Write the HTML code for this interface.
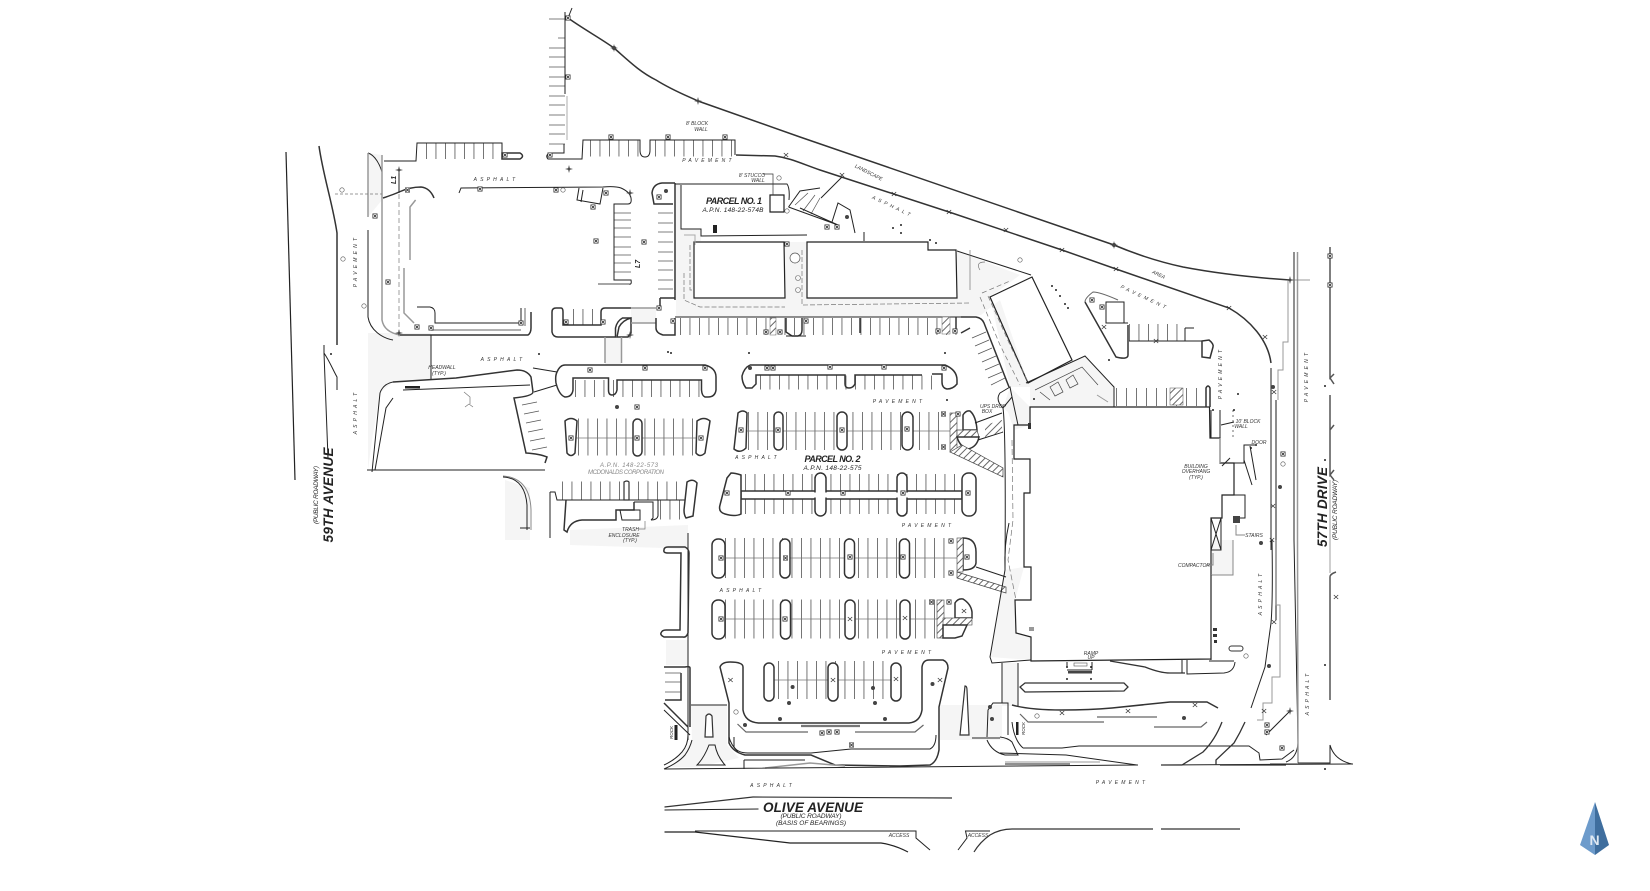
<!DOCTYPE html>
<html><head><meta charset="utf-8"><style>
html,body{margin:0;padding:0;background:#fff;width:1650px;height:891px;overflow:hidden}
svg{display:block}
text{font-family:"Liberation Sans",sans-serif;font-style:italic;fill:#222}
.a{font-size:5px;letter-spacing:3.2px;text-anchor:middle;fill:#333}
.n{font-size:5px;text-anchor:middle;fill:#333}
.l{fill:none;stroke:#222;stroke-width:1}
.t{fill:none;stroke:#333;stroke-width:1.5}
.g{fill:none;stroke:#999;stroke-width:1.5}
.h{fill:none;stroke:#777;stroke-width:.7}
.w{fill:#fff;stroke:#333;stroke-width:1.5}
.st{fill:none;stroke:#666;stroke-dasharray:.9 8.6}
.sp{fill:#f5f5f5;stroke:none}
</style></head><body>
<svg width="1650" height="891" viewBox="0 0 1650 891" xmlns="http://www.w3.org/2000/svg">
<defs>
<g id="s"><rect x="-2.2" y="-2.2" width="4.4" height="4.4" fill="#fff" stroke="#333" stroke-width=".6"/><path d="M-1.5-1.5L1.5 1.5M-1.5 1.5L1.5-1.5" stroke="#222" stroke-width=".8"/></g>
<g id="x"><path d="M-2.2-2L2.2 2M-2.2 2L2.2-2" stroke="#333" stroke-width=".7"/></g>
<circle id="f" r="2" fill="#444"/>
<circle id="d" r="1" fill="#222"/>
<circle id="o" r="2.2" fill="#fff" stroke="#555" stroke-width=".6"/>
<g id="k"><path d="M0-4L1 0L0 4L-1 0ZM-4 0L0-1L4 0L0 1Z" fill="#444"/></g>
<pattern id="hh" width="5" height="5" patternUnits="userSpaceOnUse" patternTransform="rotate(45)"><rect width="5" height="5" fill="#fff"/><rect width="1" height="5" fill="#666"/></pattern>
</defs>

<!-- stipple areas -->
<path class="sp" d="M368 333H431V380L393 382L380 393L372 440L368 470Z"/>
<path class="sp" d="M368 153V217L382 200V155Z"/>
<path class="sp" d="M605 337H621V365H605ZM631 308H656V323H631ZM676 184H681V229H701V241H694V299H785V242H807V298H957V251L1020 275L990 297L1010 387H1030V407H1114V387L1085 356L1028 383L1000 300L981 315L957 317H676Z"/>
<path class="sp" d="M1010 387L1030 407V425L1014 430L1008 412L1003 408Z"/>
<path class="sp" d="M1005 570L990 657L1031 660V637L1016 633L1015 600L1024 567ZM1002 663H1018V706H1002Z"/>
<path class="sp" d="M691 705H727V745L739 758L697 767H672L692 740Z"/>
<path class="sp" d="M940 705H1002V737L1008 740H940Z"/>
<path class="sp" d="M1211 540H1233V575H1211Z"/>
<path class="sp" d="M570 530L688 525V550L664 548L570 545ZM666 640H688V665H666Z"/>
<path class="sp" d="M505 480L530 488V540H505Z"/>

<!-- parking stripes -->
<path class="st" stroke-width="16" d="M426 151H500"/>
<path class="st" stroke-width="16" d="M590 148.500H640M655 148.500H735"/>
<path class="h" style="stroke:#555" d="M549 19H565M558 38H565M549 48H565M549 57H565M549 67H565M549 77H565M549 86H565M549 96H565M549 105H565M549 115H565M549 125H565M549 134H565M549 144H565"/>
<path class="h" style="stroke:#555" d="M614 213H631M614 220H631M614 228H631M614 237H631M614 247H631M614 255H631M614 263H631M614 272H631"/>
<path class="h" style="stroke:#555" d="M658 213H673M658 223H673M658 232H673M658 242H673M658 252H673M658 261H673M658 270H673M658 280H673M658 289H673"/>
<path class="st" stroke-width="17" d="M680 326.500H960"/>
<path class="st" stroke-width="16" d="M573 317H600"/>
<path class="st" stroke-width="17" d="M575 388.500H702"/>
<path class="st" stroke-width="14" d="M760 382.500H940"/>
<path class="st" stroke-width="37" d="M578 437H702"/>
<path class="st" stroke-width="38" d="M748 431H942"/>
<path class="st" stroke-width="40" d="M745 494H962"/>
<path class="st" stroke-width="19" d="M562 491H680"/>
<path class="st" stroke-width="19" d="M660 510H680"/>
<path class="st" stroke-width="40" d="M725 558H950"/>
<path class="st" stroke-width="39" d="M725 619H935"/>
<path class="st" stroke-width="38" d="M778 680H892"/>
<path class="st" stroke-width="17" d="M1129 332.500H1186"/>
<path class="st" stroke-width="18" style="stroke-dasharray:.9 9.1" d="M1116 397H1206"/>
<path class="h" style="stroke:#555" d="M972 338L986 332M975 346L989 340M978 354L992 348M982 362L996 356M985 370L999 364M988 378L1002 372M991 385L1005 378"/>
<path class="h" style="stroke:#555" d="M522 405L537 402M524 414L539 411M526 423L541 420M528 432L543 429M530 441L545 438M532 450L547 447"/>
<path class="h" style="stroke:#555" d="M795 205L808 193M803 211L815 195M811 214L820 198"/>

<!-- center lines -->
<path class="h" d="M575 438H705M735 431H950M725 558H958M725 619H938M770 680H895"/>

<!-- boundary -->
<path class="t" d="M568 18C585 30 600 38 614 48C630 62 640 72 656 80C672 90 685 95 698 101L800 137L1114 245C1140 256 1160 262 1183 267C1220 274 1260 278 1290 280"/>
<path class="t" d="M736 155L775 156C790 158 800 163 820 170L949 212L1062 250L1116 269L1229 308C1250 320 1268 340 1271 363"/>
<path class="l" d="M565 12V94M564 144V153H549Q545 156 548 159H582L583 140H640V150Q640 157 645 157Q650 157 650 150V140H735V155"/>
<path class="l" d="M568 18L572 8"/>
<path class="g" style="stroke-width:.8" d="M567 96V140"/>

<!-- west roads -->
<path class="l" style="stroke-width:1.2" d="M286 152L295 480"/>
<path class="t" d="M319 146C323 175 333 205 337 233V345"/>
<path class="l" d="M324 345V353C330 362 333 370 337 377V390M324 353L328 458"/>
<path class="l" d="M368 153C375 155 380 165 382 172M368 230V317C370 330 382 338 393 340"/>
<path class="g" d="M368 153V217M382 155V320Q384 332 400 335"/>
<path class="h" style="stroke-dasharray:5 3" d="M399 170V333"/>
<path class="h" style="stroke-dasharray:3 2" d="M335 194H382"/>
<path class="l" d="M399 170V193"/>
<path class="t" d="M383 198Q395 194 399 192Q410 187 421 187Q430 188 434 198"/>
<path class="g" d="M415.600 200L410 207V260M404 268V313L414 323"/>
<path class="l" d="M384 161H416L417 143H502V153"/>
<path class="w" d="M502 153H520Q525 156 520 159H502Z"/>
<path class="l" d="M459 193L461 188L603 187Q615 186 621 188Q630 192 631 198Q632 204 628 204H614V280H631Q632 285 629 284"/>
<path class="t" style="stroke:#888" d="M629 284H598"/>
<path class="l" d="M579 188L577 200L600 204L603 188M583 190L581 202"/>
<path class="l" d="M417 307H430Q435 308 435 313V323H521V308"/>
<path class="g" d="M431 330H521M525 308V326"/>
<path class="t" d="M400 335H528Q531 333 531 328V312"/>
<path class="t" d="M552 312Q552 308 556 308H561Q563 308 563 312V325H601V312Q601 308 605 308H631M552 312V332Q553 337 558 337H615.500V328Q617 321 622.500 318H631"/>
<path class="t" d="M617 337L619 327Q623 320 631 318V333L628 337Z"/>
<path class="g" d="M631 308H656M631 323H656M605 337V363M621.500 337V363"/>
<path class="l" d="M431 335V380"/>

<!-- curb lot west -->
<path class="t" d="M393 382L456 378L517 370Q527 370 531 377L533 392Q533 396 514 398L526 453Q540 454 547 457L545 463"/>
<path class="l" d="M372 472L380 393Q383 384 393 382M403 390L530 385M393 398L386 408L375 470"/>
<rect x="405" y="386" width="15" height="2.500" fill="#222"/>
<path class="l" d="M367 470H545"/>
<path class="l" d="M533 368L557 372M534 392L557 385"/>
<path class="h" d="M464 392L470 397V404M469 404L465 407M469 404L473 407"/>

<!-- west islands -->
<path class="t" d="M557 372Q560 365 565 365H705Q716 368 716 377V390Q715 397 708 397H705Q702 396 701.500 390V380H617V390Q616 395 612 395Q608.500 395 608.500 390V378H573V390Q572 397 565 397Q559 395 556 383Q555 376 557 372Z"/>
<path class="t" d="M750 365H945Q957 370 957 380V384Q953 389 947 389Q942 388 942 382V374H932M922 375H855V384Q853 388 849 388Q845 388 845 384V375H756V384L752 388H746Q742 383 742 376Q744 368 750 365"/>
<path class="w" d="M565 421Q571 416 577 421L575 453Q571 458 567 453Z"/>
<rect class="w" x="633" y="419" width="9" height="37" rx="4.500"/>
<path class="w" d="M697 421Q704 416 710 421L705 453Q700 458 696 453Z"/>
<path class="w" d="M738 413Q743 409 747 413L746 448Q740 454 734 449Z"/>
<rect class="w" x="774" y="412" width="9" height="38" rx="4.500"/>
<rect class="w" x="837" y="412" width="10" height="38" rx="5"/>
<rect class="w" x="902" y="412" width="11" height="38" rx="5.500"/>

<!-- row B -->
<path class="w" d="M741 491H962V499H741Z"/>
<path class="w" d="M731 473Q735 473 741 475V514Q735 517 725 514Q718 512 720 505L727 478Z"/>
<rect class="w" x="815" y="473" width="11" height="43" rx="5.500"/>
<rect class="w" x="897" y="473" width="10" height="43" rx="5"/>
<rect class="w" x="962" y="473" width="14" height="43" rx="6.500"/>
<path d="M743 495H961M816 495H825M898 495H906" stroke="#fff" stroke-width="5"/>

<!-- row C -->
<rect class="w" x="712" y="539" width="13" height="39" rx="6"/>
<rect class="w" x="780" y="539" width="10" height="39" rx="5"/>
<rect class="w" x="844.500" y="539" width="10" height="39" rx="5"/>
<rect class="w" x="899.500" y="539" width="10" height="39" rx="5"/>
<path class="w" d="M963 538Q976 538 976 552V563Q975 570 963 570Z"/>
<rect x="957" y="538" width="6" height="34" fill="url(#hh)" stroke="#444" stroke-width=".6"/>
<path fill="url(#hh)" stroke="#444" stroke-width=".7" d="M957 572L1006 587V593L957 578Z"/>
<path class="l" d="M976 567L1006 577"/>
<!-- row D -->
<rect class="w" x="712" y="600" width="13" height="39" rx="6"/>
<rect class="w" x="780.500" y="600" width="10" height="39" rx="5"/>
<rect class="w" x="845" y="600" width="10" height="39" rx="5"/>
<rect class="w" x="900" y="600" width="10" height="39" rx="5"/>
<rect x="937" y="600" width="7" height="38" fill="url(#hh)" stroke="#444" stroke-width=".6"/>
<path class="w" d="M955 618V603Q958 598 963 599Q971 604 972 612V618Z"/>
<rect x="943" y="618" width="29" height="7" fill="url(#hh)" stroke="#444" stroke-width=".6"/>
<path class="w" d="M943 625H967L962 636L955 638H943Z"/>
<!-- row E -->
<rect class="w" x="764" y="663" width="10" height="38" rx="5"/>
<rect class="w" x="828" y="663" width="10" height="38" rx="5"/>
<rect class="w" x="891" y="663" width="10" height="38" rx="5"/>
<path class="t" d="M720 667Q722 662 730 662Q743 662 743 667V710Q745 722 758.500 723H909Q920 722 922 710V667Q923 660 929 660H943Q948 662 948 668L939 707V750Q937 762 930 765L900 766L835 765L811 755H745Q733 752 729 743V703Z"/>
<path class="l" d="M734 737V747Q738 753 748 753H811L851 749L930 749Q936 746 936 735M744 760V769M744 760H805"/>
<path class="g" d="M765 768L810 763L845 766"/>
<path class="t" style="stroke:#777;stroke-width:2.2" d="M801 726H860"/>
<path class="t" style="stroke:#666;stroke-width:1.2" d="M737.500 724L746 732H808M855 732H915L923.500 725"/>

<!-- east center row A -->
<rect x="950" y="413" width="7" height="39" fill="url(#hh)" stroke="#444" stroke-width=".6"/>
<path class="w" d="M963 430V415Q966 410 970 411Q976 416 977 430Z"/>
<path fill="url(#hh)" stroke="#444" stroke-width=".7" d="M957 430H977L979 437H957Z"/>
<path class="w" d="M957 437H979Q977 447 968 449Q960 447 957 437Z"/>
<path fill="url(#hh)" stroke="#444" stroke-width=".7" d="M950 452L962 445L1003 468V477Z"/>
<path class="l" d="M975 423L1002 413M978 440L1003 432"/>
<path fill="url(#hh)" d="M985 425L1002 420V432L985 437Z"/>
<!-- main building -->
<path class="l" style="stroke-width:1.200" d="M1030 407H1209.500L1210 438H1220V463H1234V495H1222V518H1211V659L1031 661V637L1016 633L1015 600H1031V567H1024V493H1030V459H1014V425H1030Z"/>
<path class="l" d="M1003 408Q1006 430 1005 570L990 657L992 663L1031 660M1000 393L1010 387L1012 397L1003 408Q995 400 1000 393ZM1012 397L1018 425"/>
<path class="h" style="stroke-dasharray:6 3" d="M1012 440L1013 520L1008 560L1016 600"/>
<rect x="1028" y="423" width="3" height="6" fill="#333"/>
<path class="l" d="M1009 523Q1004 545 1005 570"/>

<!-- parcel 1 -->
<path class="l" d="M675 184H787Q790 188 789 200M681 185V229H701V236L807 235"/>
<path class="t" d="M675 183H662Q653 184 652 193L654 204H673M675 183V300M660 298H675M660 298V308M675 318V335H663Q656 333 656 328V318"/>
<path class="l" style="stroke-width:1.200" d="M770 195H784V212H770Z"/>
<path class="h" style="stroke:#333" d="M763 174H773V195"/>
<path class="l" style="stroke-width:1.200" d="M694 242H784L785 298H694Z"/>
<path class="l" style="stroke-width:1.200" d="M807 242H928V250H956L957 298H807Z"/>
<path class="h" style="stroke-dasharray:5 2" d="M690 245V290H694M684 273V300L700 307H785M802 250V305L970 303"/>
<path class="l" style="stroke:#aaa" d="M684 235H695V245"/>
<circle cx="795" cy="258" r="5" fill="#fff" stroke="#555" stroke-width=".7"/>
<circle cx="798" cy="278" r="2.500" fill="none" stroke="#666" stroke-width=".6"/>
<circle cx="798" cy="290" r="2.500" fill="none" stroke="#666" stroke-width=".6"/>
<path class="l" d="M788.500 207L800 191L820 188M788.500 207L838 225M800 208L838 225"/>
<path class="l" d="M832 222L838 203L850 210L855 233M842 177L821 198"/>
<path class="l" d="M864 232V241"/>
<path class="l" d="M675 317H961"/>
<path class="t" d="M786 318V332L792 336H798Q802 335 802 330V318M860 318V333M961 333L970 328M961 317H976Q982 318 984 323L1009 387"/>
<path class="t" d="M956 317V333"/>
<path class="l" d="M786 336H806"/>
<rect x="770" y="318" width="6" height="17" fill="url(#hh)" stroke="#666" stroke-width=".5"/>
<rect x="942" y="317" width="8" height="17" fill="url(#hh)" stroke="#666" stroke-width=".5"/>

<!-- NE buildings -->
<path class="l" d="M957 251L1031 275"/>
<path class="l" style="stroke-width:1.200" d="M990 297L1032 277L1072 360L1028 383Z"/>
<path class="l" d="M1026 383L1085 356L1114 387V407"/>
<path class="h" style="stroke:#444" d="M1035 390L1082 367L1098 385M1040 392L1050 400M1058 382L1063 392L1055 396L1050 387ZM1073 375L1078 384L1070 388L1066 380Z"/>
<path class="h" style="stroke-dasharray:5 3" d="M980 297L1000 345L1020 385M988 296L1010 345L1028 382M982 293L1010 281"/>
<path class="g" d="M1097 395L1108 402" style="stroke-width:1"/>
<path class="h" d="M970 250V290M980 270Q975 262 985 262"/>
<path class="l" style="stroke:#666" d="M1085 302Q1085 298 1093 292Q1100 292 1118 300"/>
<path class="t" d="M1085 302L1116 357Q1128 360 1128 355V325"/>
<path class="l" d="M1106 302H1124V323H1106ZM1106 323H1128M1129 341H1202M1185 328H1194M1185 328V341"/>
<path class="t" d="M1202 341L1209 340Q1214 344 1213 347L1210 358L1202 357Z"/>
<path class="t" d="M1206 407V388Q1208 384 1210 388V407"/>
<rect x="1170" y="388" width="13" height="17" fill="url(#hh)" stroke="#555" stroke-width=".5"/>
<path class="h" style="stroke:#333;stroke-dasharray:2 3" d="M1233 410V438"/>
<path class="l" d="M1211 410V438M1220 410V438"/>
<path class="l" d="M1234 463H1244V445H1255M1250 446L1256 480M1244 460L1252 485"/>
<path class="g" d="M1220 438V463" style="stroke-width:1.200"/>
<path class="l" d="M1221 425L1234 422M1222 466L1230 458"/>
<path class="l" d="M1234 495H1245V518H1234"/>
<path class="l" d="M1211 518H1221V550H1211Z"/>
<path class="l" d="M1211 518L1221 550M1221 518L1211 550"/>
<rect x="1233" y="516" width="7" height="7" fill="#444"/>
<path class="l" d="M1236 525V535H1245M1213 553V565H1206M1233 540V575H1211" style="stroke:#888"/>
<path class="l" d="M1211 575V660"/>

<!-- east roads -->
<path class="l" d="M1271 368V550"/>
<path class="t" style="stroke:#666;stroke-width:1.500" d="M1276 400V620"/>
<path class="g" style="stroke-width:1" d="M1288 280V342H1283V370H1278V400"/>
<path class="l" d="M1272 540Q1273 600 1271 623L1265 667L1251 708"/>
<path class="g" style="stroke-width:1" d="M1276 540V605H1280V677H1272V703H1263V720H1257"/>
<path class="l" d="M1294 252V540L1298 743Q1297 758 1286 762"/>
<path class="g" d="M1297.500 252V540L1298 763"/>
<path class="l" d="M1298 763H1330V745Q1334 760 1352 764M1270 764H1298"/>
<path class="t" style="stroke:#555" d="M1330 247V378L1334 374M1330 378L1334 384M1330 395V430L1334 425M1330 430V475L1334 470M1330 475L1334 480M1330 577Q1330 574 1336 572M1330 577V700"/>
<path class="h" d="M1330 480V573M1290 280H1310"/>
<path class="l" d="M1290 711L1266 735"/>
<!-- olive top road -->
<path class="l" d="M664.500 769L1138 765M1161 765L1353 764"/>
<path class="l" d="M664 769Q678 763 685 755Q690 748 692 740M664 765Q675 760 682 752Q688 745 688 735"/>
<path class="l" d="M688 533V740M691 705H727"/>
<path class="t" d="M664 550Q664 547 668 547H685Q689 549 689 553L688 633Q686 638 683 637H664Q660 635 661 633Q662 630 666 630H680L681 553H668Q663 553 664 550Z"/>
<path class="t" d="M664 667H685Q690 666 690 668V727M681 673V700H665M664 703L688 727"/>
<path class="h" style="stroke:#555" d="M665 673H681M665 682H681M665 692H681"/>
<path class="l" d="M664 710L690 735"/>
<path class="w" style="stroke-width:1.200" d="M706 716Q709 712 712 716L713 737H705Z"/>
<path class="l" d="M709 745Q704 758 697 765H725Q717 756 715 745Z"/>
<path class="l" d="M729 737Q731 745 738 752"/>
<path class="w" style="stroke-width:1.200" d="M965 686Q967 686 967 690L969 735H960Z"/>
<path class="l" d="M987 737L988 710L993 703H1008V735M972 738H1000M1002 663V703M1018 663V706"/>
<path class="l" d="M987 740Q992 752 1005 755H1018L1012 742Q1008 738 1000 737"/>
<path class="w" style="stroke-width:1.300" d="M1025 683H1124L1128 687L1124 691L1025 692L1020 687Z"/>
<path class="t" d="M1012 705Q1030 710 1062 710Q1090 710 1112 708L1170 702H1207L1218 708"/>
<path class="l" d="M1023 748H1062L1079 746H1249L1259 753L1260 760L1282 759L1294 750M1012 722Q1014 740 1023 748"/>
<path class="l" d="M1000 753L1066 755L1137 765M1005 764H1070"/>
<path class="g" style="stroke-width:1" d="M1005 762H1100"/>
<path class="t" style="stroke-width:1.300" d="M1161 765H1182L1203 752Q1215 740 1222 722M1220 765H1286M1216 765V760L1234 743Q1240 733 1245 722"/>
<path class="t" style="stroke-width:1.300" d="M1110 661L1145 667Q1160 673 1170 673H1185"/>
<path class="l" d="M1182 660V673M1187 660V674L1224 673Q1234 672 1235 662M1209 661H1234"/>
<rect x="1074" y="663" width="13" height="3" fill="none" stroke="#555" stroke-width=".6"/>
<path class="l" d="M1067 662V667M1067 670H1092M1092 662V670"/>
<rect x="1068" y="671" width="24" height="2.500" fill="#444"/>
<rect x="674.500" y="725" width="3" height="15" fill="#222"/>
<rect x="1016" y="722" width="2.500" height="13" fill="#222"/>
<path class="t" style="stroke-width:1.200;stroke:#666" d="M1020 714L1028 722H1104"/>
<path class="t" style="stroke-width:1.200;stroke:#666" d="M1097 717H1157"/>
<path class="t" style="stroke-width:1.200;stroke:#666" d="M1154 727H1201L1207 722"/>

<!-- McDonalds -->
<path class="l" d="M550 492H555L557 500H566M550 492V538"/>
<path class="t" d="M566 500L564 530L567 532Q570 521 582 520H616V510H634V502"/>
<path class="l" d="M566 500H687"/>
<path class="w" d="M687 482Q693 478 697 483L693 516L686 518Q684 515 684 510Z"/>
<path class="w" style="stroke-width:1.200" d="M624 482Q627 480 629 482V500H624Z"/>
<path class="l" d="M622 520H640Q640 510 640 510H620ZM634 502H653V518L651 520"/>
<path class="h" d="M639 529H645V521"/>
<path class="l" d="M658 500V516Q657 520 651 520"/>
<path class="l" style="stroke:#888" d="M503 476Q530 478 531 510V530"/>
<path class="l" d="M503 477Q525 478 527 505V530M520 528H530"/>

<!-- olive lines -->
<path class="t" style="stroke-width:1.200" d="M664.500 807L753 797L952 798"/>
<path class="l" d="M664.500 810L758.500 809"/>
<path class="l" style="stroke-width:1.200" d="M664.500 832H695L790 843H881Q895 845 908 852"/>
<path class="l" d="M695 831H916V838L930 850M958 850L967 838L965.500 831H990"/>
<path class="t" style="stroke-width:1.200" d="M974 852Q980 842 990 835Q1000 829 1012 829H1153M1161 829H1240"/>

<!-- icons -->
<g>
<use href="#s" x="568" y="18"/><use href="#s" x="568" y="77"/><use href="#s" x="611" y="137"/><use href="#s" x="668" y="137"/><use href="#s" x="725" y="137"/><use href="#s" x="505" y="155"/><use href="#s" x="550" y="155"/><use href="#s" x="375" y="216"/><use href="#s" x="388" y="282"/><use href="#s" x="407.500" y="190"/><use href="#s" x="480" y="189"/><use href="#s" x="556" y="190"/><use href="#s" x="606" y="193"/><use href="#s" x="593" y="207"/><use href="#s" x="596" y="241"/><use href="#s" x="644" y="242"/><use href="#s" x="659" y="197"/><use href="#s" x="659" y="308"/><use href="#s" x="673" y="321"/><use href="#s" x="566" y="322"/><use href="#s" x="603" y="322"/><use href="#s" x="521" y="323"/><use href="#s" x="417" y="327"/><use href="#s" x="431" y="328"/><use href="#s" x="590" y="370"/><use href="#s" x="645" y="368"/><use href="#s" x="705" y="368"/><use href="#s" x="767" y="368"/><use href="#s" x="773" y="368"/><use href="#s" x="637" y="407"/><use href="#s" x="766" y="332"/><use href="#s" x="780" y="332"/><use href="#s" x="806" y="321"/><use href="#s" x="787" y="244"/><use href="#s" x="830" y="367"/><use href="#s" x="884" y="367"/><use href="#s" x="944" y="368"/><use href="#s" x="938" y="331"/><use href="#s" x="955" y="331"/><use href="#s" x="943.500" y="414"/><use href="#s" x="943.500" y="447"/><use href="#s" x="958" y="414"/><use href="#s" x="842" y="430"/><use href="#s" x="907" y="429"/><use href="#s" x="778" y="430"/><use href="#s" x="741" y="430"/><use href="#s" x="571" y="438"/><use href="#s" x="637" y="438"/><use href="#s" x="701" y="438"/>
<use href="#s" x="727" y="493"/><use href="#s" x="788" y="493"/><use href="#s" x="843" y="493"/><use href="#s" x="903" y="493"/><use href="#s" x="968" y="493"/><use href="#s" x="721" y="558"/><use href="#s" x="785.500" y="558"/><use href="#s" x="850" y="557"/><use href="#s" x="903" y="557"/><use href="#s" x="967" y="557"/><use href="#s" x="951" y="541"/><use href="#s" x="951" y="573"/><use href="#s" x="721" y="619"/><use href="#s" x="785" y="619"/><use href="#s" x="931.500" y="602"/><use href="#s" x="949" y="602"/><use href="#s" x="822" y="733"/><use href="#s" x="829" y="732"/><use href="#s" x="837" y="732"/><use href="#s" x="851.500" y="745"/><use href="#s" x="1283" y="454"/><use href="#s" x="1282" y="748"/><use href="#s" x="1330" y="256"/><use href="#s" x="1330" y="285"/><use href="#s" x="1267" y="725"/><use href="#s" x="1267" y="732"/><use href="#s" x="1092" y="300"/><use href="#s" x="1102" y="307"/><use href="#s" x="827" y="227"/><use href="#s" x="837" y="227"/>
<use href="#x" x="850" y="619"/><use href="#x" x="905" y="618"/><use href="#x" x="964" y="611"/><use href="#x" x="833" y="680"/><use href="#x" x="896" y="679"/><use href="#x" x="730.500" y="680"/><use href="#x" x="940" y="680"/><use href="#x" x="1062" y="713"/><use href="#x" x="1128" y="711"/><use href="#x" x="1195" y="705"/><use href="#x" x="1336" y="597"/><use href="#x" x="1274" y="622"/><use href="#x" x="786" y="155"/><use href="#x" x="842" y="175"/><use href="#x" x="894" y="194"/><use href="#x" x="949" y="212"/><use href="#x" x="1006" y="230"/><use href="#x" x="1062" y="250"/><use href="#x" x="1116" y="269"/><use href="#x" x="1229" y="308"/><use href="#x" x="1265" y="337"/><use href="#x" x="1156" y="341"/><use href="#x" x="1104" y="327"/><use href="#x" x="1274" y="392"/><use href="#x" x="1273" y="506"/><use href="#x" x="1272" y="540"/><use href="#x" x="1264" y="711"/>
<use href="#k" x="399" y="170"/><use href="#k" x="569" y="169"/><use href="#k" x="399" y="333"/><use href="#k" x="630" y="193"/><use href="#k" x="630" y="335"/><use href="#k" x="1290" y="280"/><use href="#k" x="1290" y="711"/><use href="#k" x="1114" y="245"/><use href="#k" x="614" y="48"/><use href="#k" x="698" y="101"/>
<use href="#f" x="666" y="191"/><use href="#f" x="617" y="407"/><use href="#f" x="792.600" y="687"/><use href="#f" x="789" y="703"/><use href="#f" x="873" y="688"/><use href="#f" x="875" y="703"/><use href="#f" x="780" y="719"/><use href="#f" x="885" y="719"/><use href="#f" x="745" y="725"/><use href="#f" x="932.500" y="684"/><use href="#f" x="1273" y="387"/><use href="#f" x="1280" y="487"/><use href="#f" x="1261" y="543"/><use href="#f" x="1269" y="666"/><use href="#f" x="1184" y="718"/><use href="#f" x="750" y="368"/><use href="#f" x="614" y="48"/><use href="#f" x="1114" y="245"/><use href="#f" x="992" y="719" /><use href="#f" x="847" y="217"/><use href="#f" x="1236" y="520"/><use href="#f" x="990" y="707"/>
<use href="#d" x="668" y="352"/><use href="#d" x="671" y="353"/><use href="#d" x="749" y="353"/><use href="#d" x="539" y="354"/><use href="#d" x="331" y="354"/><use href="#d" x="1325" y="386"/><use href="#d" x="1325" y="460"/><use href="#d" x="1325" y="665"/><use href="#d" x="1325" y="769"/><use href="#d" x="945" y="353"/><use href="#d" x="947" y="400"/><use href="#d" x="1109" y="360"/><use href="#d" x="1238" y="394"/><use href="#d" x="1034" y="399"/><use href="#d" x="1052" y="286"/><use href="#d" x="1056" y="290"/><use href="#d" x="1060" y="296"/><use href="#d" x="1065" y="304"/><use href="#d" x="1068" y="308"/><use href="#d" x="893" y="228"/><use href="#d" x="901" y="225"/><use href="#d" x="901" y="233"/><use href="#d" x="930" y="240"/><use href="#d" x="936" y="243"/><use href="#d" x="1213" y="410"/><use href="#d" x="1234" y="410"/><use href="#d" x="1251" y="448"/><use href="#d" x="1256" y="445"/><use href="#d" x="1067" y="667"/><use href="#d" x="1091" y="667"/><use href="#d" x="1067" y="679"/><use href="#d" x="1091" y="679"/>
<use href="#o" x="342" y="190"/><use href="#o" x="343" y="259"/><use href="#o" x="364" y="306"/><use href="#o" x="563" y="190"/><use href="#o" x="779" y="178"/><use href="#o" x="787" y="211"/><use href="#o" x="1020" y="260"/><use href="#o" x="736" y="712"/><use href="#o" x="1037" y="716"/><use href="#o" x="1246" y="656"/><use href="#o" x="1283" y="464"/>
</g>
<rect x="713" y="225" width="4" height="8" fill="#222"/>
<rect x="1229" y="646" width="14" height="5" rx="2.500" fill="#fff" stroke="#333" stroke-width="1"/>
<path d="M1213 628h4v3h-4zM1213 634h4v3h-4zM1214 640h3v3h-3z" fill="#333"/>
<path d="M1029 628h5M1029 630h5" stroke="#333"/>

<!-- labels -->
<text class="a" x="496" y="181">ASPHALT</text>
<text class="a" x="503" y="361">ASPHALT</text>
<text class="a" x="708.500" y="162">PAVEMENT</text>
<text class="a" transform="translate(357 261) rotate(-90)">PAVEMENT</text>
<text class="a" transform="translate(357 412) rotate(-90)">ASPHALT</text>
<text class="n" x="697" y="125">8' BLOCK</text><text class="n" x="701" y="131">WALL</text>
<text class="n" x="752" y="177">8' STUCCO</text><text class="n" x="758" y="182">WALL</text>
<text x="734" y="204" text-anchor="middle" font-weight="700" font-size="9" textLength="56">PARCEL NO. 1</text>
<text x="733" y="212" text-anchor="middle" font-size="6.500" textLength="61" fill="#333">A.P.N. 148-22-574B</text>
<text class="n" transform="translate(868 174) rotate(27)">LANDSCAPE</text>
<text class="a" transform="translate(892 208) rotate(25)">ASPHALT</text>
<text class="n" transform="translate(1158 276) rotate(25)">AREA</text>
<text class="a" transform="translate(1144 299) rotate(25)">PAVEMENT</text>
<text class="a" transform="translate(1222 373) rotate(-90)">PAVEMENT</text>
<text class="a" transform="translate(1308 376) rotate(-90)">PAVEMENT</text>
<text class="a" x="899" y="403">PAVEMENT</text>
<text class="n" x="993" y="408">UPS DROP</text><text class="n" x="987" y="413">BOX</text>
<text class="n" x="1248" y="423">10' BLOCK</text><text class="n" x="1241" y="428">WALL</text>
<text class="n" x="1259" y="444">DOOR</text>
<text class="n" x="1196" y="468">BUILDING</text><text class="n" x="1196" y="473">OVERHANG</text><text class="n" x="1196" y="479">(TYP.)</text>
<text class="n" x="1254" y="537">STAIRS</text>
<text class="n" x="1194" y="567">COMPACTOR</text>
<text class="n" x="1091" y="655">RAMP</text><text class="n" x="1091" y="659">UP</text>
<text class="n" x="442" y="369">HEADWALL</text><text class="n" x="439" y="375">(TYP.)</text>
<text class="n" x="630.500" y="531">TRASH</text><text class="n" x="624" y="537">ENCLOSURE</text><text class="n" x="630" y="542">(TYP.)</text>
<text x="832.500" y="462" text-anchor="middle" font-weight="700" font-size="9" textLength="56">PARCEL NO. 2</text>
<text x="832.500" y="470" text-anchor="middle" font-size="6.500" textLength="58" fill="#333">A.P.N. 148-22-575</text>
<text x="629" y="467" text-anchor="middle" font-size="6" textLength="58" style="fill:#888">A.P.N. 148-22-573</text>
<text x="626" y="474" text-anchor="middle" font-size="6" textLength="76" style="fill:#888">MCDONALDS CORPORATION</text>
<text class="a" x="757.500" y="459">ASPHALT</text>
<text class="a" x="928" y="527">PAVEMENT</text>
<text class="a" x="742" y="592">ASPHALT</text>
<text class="a" x="908" y="654">PAVEMENT</text>
<text class="a" x="772.600" y="787">ASPHALT</text>
<text class="a" x="1122" y="784">PAVEMENT</text>
<text class="a" transform="translate(1262 593) rotate(-90)">ASPHALT</text>
<text class="a" transform="translate(1309 693) rotate(-90)">ASPHALT</text>
<text x="813" y="812" text-anchor="middle" font-weight="700" font-size="13.500" textLength="100">OLIVE AVENUE</text>
<text x="811" y="818" text-anchor="middle" font-size="6.500" textLength="61">(PUBLIC ROADWAY)</text>
<text x="811" y="825" text-anchor="middle" font-size="6.500" textLength="70">(BASIS OF BEARINGS)</text>
<text class="n" x="899" y="837">ACCESS</text>
<text class="n" x="978" y="837">ACCESS</text>
<text font-weight="700" font-size="13.500" text-anchor="middle" textLength="80" transform="translate(1327 507) rotate(-90)">57TH DRIVE</text>
<text font-size="6.500" text-anchor="middle" textLength="60" transform="translate(1337 510) rotate(-90)">(PUBLIC ROADWAY)</text>
<text font-weight="700" font-size="13.500" text-anchor="middle" textLength="95" transform="translate(333 495) rotate(-90)">59TH AVENUE</text>
<text font-size="6.500" text-anchor="middle" textLength="58" transform="translate(318 495) rotate(-90)">(PUBLIC ROADWAY)</text>
<text font-size="7" transform="translate(396 184) rotate(-90)" font-weight="700">L1</text>
<text font-size="7" transform="translate(640 268) rotate(-90)" font-weight="700">L7</text>
<text font-size="4.500" transform="translate(673 739) rotate(-90)">ROCK</text>
<text font-size="4.500" transform="translate(1025 735) rotate(-90)">ROCK</text>

<!-- north arrow -->
<path d="M1595 802L1580 845L1595 855Z" fill="#6d9bcb"/>
<path d="M1595 802L1609 845L1595 855Z" fill="#3f6e9e"/>
<text x="1594.500" y="845" text-anchor="middle" font-weight="700" font-size="14" style="fill:#dfe9f3;font-style:normal">N</text>
</svg>
</body></html>
